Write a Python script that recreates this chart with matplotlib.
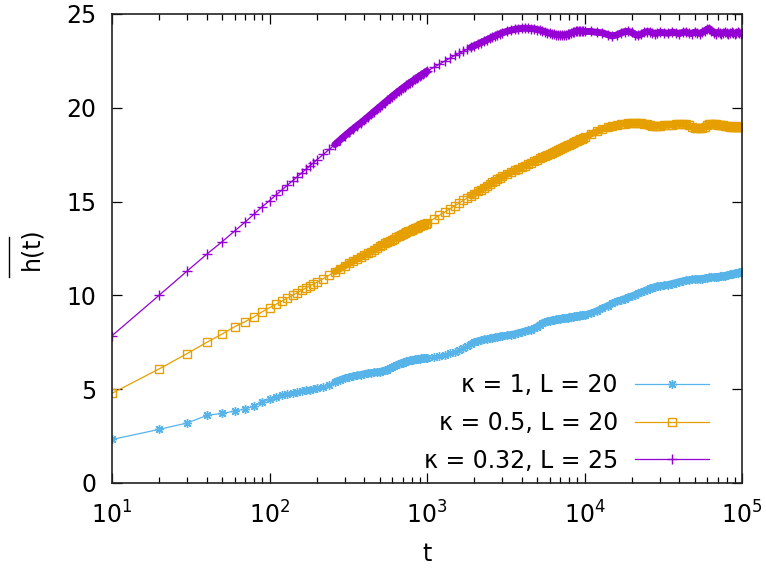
import numpy as np
import matplotlib
matplotlib.use("Agg")
import matplotlib.pyplot as plt
from matplotlib.lines import Line2D

plt.rcParams["font.family"] = ["DejaVu Sans"]
plt.rcParams["mathtext.fontset"] = "dejavusans"

# sampling times (dense early, coarser later)
t = np.concatenate([
    np.arange(10, 201, 10),
    np.arange(220, 1001, 20),
    np.arange(1100, 3001, 100),
    np.arange(3200, 10001, 200),
    np.arange(11000, 30001, 1000),
    np.arange(32000, 100001, 2000),
]).astype(float)

# kappa = 1, L = 20
h_k1 = [
    2.32, 2.86, 3.2, 3.6, 3.71, 3.83, 3.95, 4.1, 4.3, 4.48,
    4.58, 4.67, 4.73, 4.79, 4.85, 4.9, 4.94, 4.98, 5.02, 5.06,
    5.13, 5.25, 5.4, 5.5, 5.58, 5.65, 5.7, 5.74, 5.78, 5.82,
    5.86, 5.88, 5.9, 5.92, 5.94, 5.97, 6.0, 6.05, 6.11, 6.18,
    6.24, 6.3, 6.35, 6.39, 6.42, 6.45, 6.48, 6.51, 6.54, 6.56,
    6.58, 6.6, 6.61, 6.62, 6.63, 6.64, 6.65, 6.66, 6.67, 6.68,
    6.72, 6.77, 6.84, 6.92, 7.0, 7.08, 7.18, 7.3, 7.42, 7.51,
    7.57, 7.61, 7.65, 7.68, 7.71, 7.73, 7.76, 7.78, 7.81, 7.83,
    7.87, 7.91, 7.95, 8.0, 8.05, 8.09, 8.13, 8.18, 8.25, 8.34,
    8.44, 8.52, 8.58, 8.62, 8.65, 8.68, 8.7, 8.72, 8.74, 8.76,
    8.77, 8.79, 8.8, 8.82, 8.84, 8.85, 8.87, 8.88, 8.9, 8.91,
    8.92, 8.93, 8.94, 8.95, 8.96,
    9.05, 9.18, 9.32, 9.45, 9.57, 9.68, 9.76, 9.83, 9.9, 9.97,
    10.04, 10.11, 10.18, 10.25, 10.31, 10.37, 10.42, 10.46, 10.49, 10.51,
    10.54, 10.58, 10.63, 10.68, 10.73, 10.77, 10.8, 10.83, 10.85, 10.87,
    10.88, 10.89, 10.9, 10.92, 10.94, 10.96, 10.97, 10.98, 10.99, 11.0,
    11.01, 11.02, 11.04, 11.06, 11.08, 11.1, 11.12, 11.14, 11.16, 11.18,
    11.2, 11.22, 11.24, 11.25, 11.27,
]

# kappa = 0.5, L = 20
h_k05 = [
    4.78, 6.09, 6.9, 7.5, 7.94, 8.33, 8.6, 8.86, 9.13, 9.34,
    9.53, 9.7, 9.86, 10.0, 10.14, 10.27, 10.39, 10.5, 10.6, 10.7,
    10.9, 11.08, 11.26, 11.42, 11.57, 11.71, 11.83, 11.95, 12.05, 12.15,
    12.24, 12.34, 12.44, 12.53, 12.62, 12.7, 12.77, 12.84, 12.91, 12.97,
    13.03, 13.09, 13.15, 13.21, 13.26, 13.31, 13.36, 13.41, 13.45, 13.49,
    13.53, 13.57, 13.61, 13.65, 13.69, 13.73, 13.76, 13.8, 13.83, 13.86,
    14.08, 14.27, 14.45, 14.62, 14.78, 14.92, 15.06, 15.19, 15.31, 15.43,
    15.54, 15.64, 15.74, 15.84, 15.93, 16.02, 16.1, 16.19, 16.26, 16.34,
    16.45, 16.56, 16.66, 16.75, 16.84, 16.92, 17.01, 17.08, 17.16, 17.23,
    17.3, 17.36, 17.42, 17.49, 17.54, 17.6, 17.66, 17.71, 17.76, 17.81,
    17.86, 17.91, 17.95, 18.0, 18.04, 18.09, 18.13, 18.17, 18.21, 18.25,
    18.29, 18.32, 18.36, 18.4, 18.43,
    18.6, 18.74, 18.86, 18.95, 19.03, 19.08, 19.12, 19.15, 19.17, 19.18,
    19.19, 19.19, 19.18, 19.16, 19.12, 19.07, 19.04, 19.03, 19.04, 19.05,
    19.06, 19.08, 19.1, 19.12, 19.13, 19.14, 19.12, 19.06, 18.98, 18.93,
    18.91, 18.9, 18.93, 19.0, 19.08, 19.13, 19.15, 19.14, 19.12, 19.1,
    19.08, 19.07, 19.06, 19.05, 19.04, 19.02, 19.0, 18.99, 18.98, 19.0,
    19.01, 18.99, 18.98, 19.0, 18.99,
]

# kappa = 0.32, L = 25
h_k032 = [
    7.85, 10.02, 11.3, 12.2, 12.86, 13.43, 13.91, 14.34, 14.73, 15.05,
    15.35, 15.62, 15.88, 16.11, 16.33, 16.53, 16.72, 16.9, 17.07, 17.23,
    17.52, 17.79, 18.04, 18.28, 18.5, 18.7, 18.88, 19.05, 19.2, 19.35,
    19.5, 19.65, 19.79, 19.92, 20.05, 20.17, 20.28, 20.39, 20.5, 20.6,
    20.7, 20.79, 20.88, 20.97, 21.05, 21.12, 21.2, 21.27, 21.34, 21.4,
    21.46, 21.53, 21.59, 21.65, 21.7, 21.75, 21.8, 21.85, 21.9, 21.95,
    22.15, 22.33, 22.5, 22.65, 22.79, 22.91, 23.02, 23.12, 23.22, 23.31,
    23.4, 23.48, 23.56, 23.63, 23.7, 23.77, 23.83, 23.89, 23.94, 23.99,
    24.07, 24.13, 24.18, 24.21, 24.23, 24.24, 24.23, 24.22, 24.2, 24.17,
    24.14, 24.1, 24.05, 24.01, 23.97, 23.94, 23.92, 23.9, 23.89, 23.88,
    23.87, 23.88, 23.89, 23.91, 23.94, 23.98, 24.02, 24.05, 24.08, 24.1,
    24.1, 24.09, 24.08, 24.07, 24.07,
    24.07, 24.02, 24.0, 23.9, 23.83, 23.88, 23.98, 24.06, 24.07, 24.02,
    23.9, 23.86, 23.93, 24.02, 24.06, 24.05, 24.0, 23.96, 23.98, 24.02,
    24.0, 23.97, 24.03, 24.0, 23.95, 24.02, 24.04, 23.98, 23.96, 24.03,
    24.0, 23.96, 24.02, 24.1, 24.18, 24.22, 24.12, 24.0, 23.96, 24.02,
    23.98, 23.95, 24.01, 24.03, 23.97, 23.95, 24.0, 24.02, 23.97, 23.95,
    24.0, 24.03, 23.98, 23.96, 24.0,
]

labels = ["κ = 1, L = 20", "κ = 0.5, L = 20", "κ = 0.32, L = 25"]
colors = ["#56b4e9", "#e69f00", "#9400d3"]
markers = [(8, 2, 0), "s", "+"]
msizes = [6.5, 5.5, 6.5]

W, H = 766, 569
fig = plt.figure(figsize=(W / 100, H / 100), dpi=100)
x0, x1, y0, y1 = 112, 742, 14, 483
ax = fig.add_axes([x0 / W, 1 - y1 / H, (x1 - x0) / W, (y1 - y0) / H])

# where consecutive symbols overlap, they merge into a solid band
dense = ((t >= 260) & (t <= 1000)) | (t >= 1900)

for h, lab, c, m, ms in zip([h_k1, h_k05, h_k032], labels, colors, markers, msizes):
    h = np.asarray(h, dtype=float)
    band = np.where(dense, h, np.nan)
    ax.plot(t, band, color=c, lw=5.0, solid_capstyle="round")
    ax.plot(t, h, color=c, lw=0.9, marker=m, ms=ms, mew=1.0,
            mfc="none", mec=c, label=lab)

ax.set_xscale("log")
ax.set_xlim(10, 1e5)
ax.set_ylim(0, 25)
ax.set_yticks([0, 5, 10, 15, 20, 25])
ax.set_xticks([1e1, 1e2, 1e3, 1e4, 1e5])
ax.set_xticklabels([r"$10^{%d}$" % k for k in range(1, 6)])
ax.tick_params(which="both", direction="in", top=True, right=True,
               labelsize=17, width=0.9, color="black")
ax.tick_params(which="major", length=7)
ax.tick_params(which="minor", length=4)
ax.tick_params(axis="y", pad=11)
ax.tick_params(axis="x", pad=13)
ax.minorticks_on()
ax.yaxis.set_minor_locator(matplotlib.ticker.NullLocator())
for s in ax.spines.values():
    s.set_linewidth(1.2)
    s.set_color("#222222")

ax.set_xlabel("t", fontsize=17, labelpad=10)
fig.text(31 / W, 1 - 248.5 / H, "h(t)", rotation=90, fontsize=17,
         ha="center", va="center")
fig.add_artist(Line2D([9 / W, 9 / W], [1 - 237 / H, 1 - 277 / H],
                      color="black", lw=1.0))

leg = ax.legend(loc="lower right", bbox_to_anchor=(730 / W, 1 - 494 / H),
                bbox_transform=fig.transFigure, frameon=False, fontsize=17,
                markerfirst=False, numpoints=1, handlelength=3.13,
                handletextpad=0.72, labelspacing=0.58, borderpad=0.4)

fig.savefig("out.png", dpi=100)
